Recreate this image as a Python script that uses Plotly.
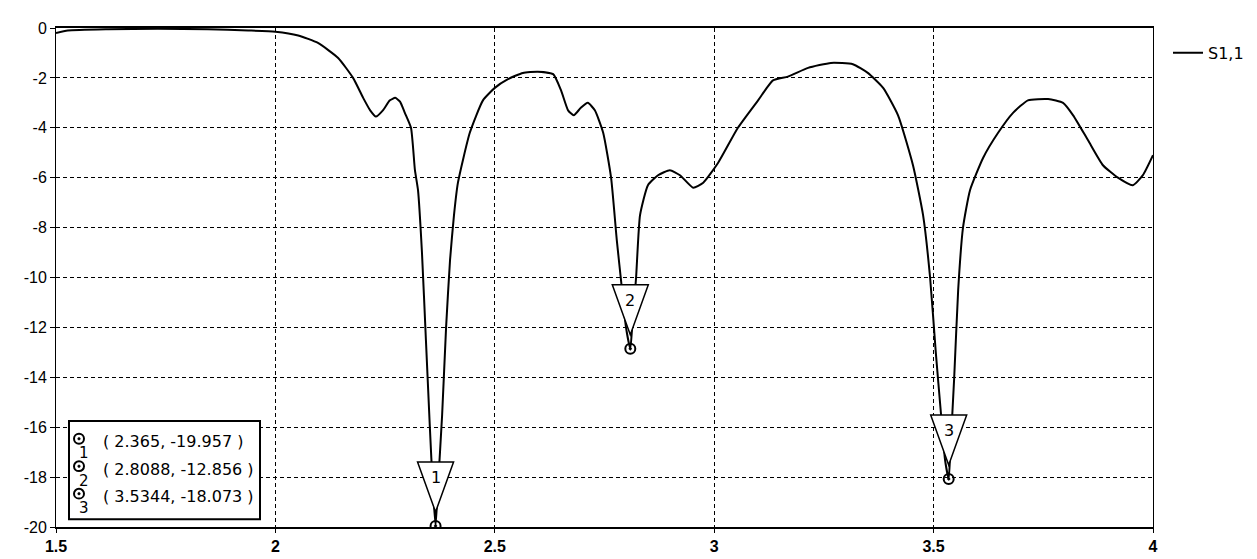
import plotly.graph_objects as go

# ---------------- data ----------------
freq = [1.5, 1.527, 1.619, 1.732, 1.846, 1.938, 2.0, 2.052, 2.097, 2.143, 2.177, 2.2, 2.216,
        2.229, 2.245, 2.261, 2.273, 2.284, 2.295, 2.309, 2.318, 2.325, 2.334, 2.343, 2.352,
        2.359, 2.365, 2.37, 2.38, 2.389, 2.398, 2.407, 2.416, 2.443, 2.473, 2.5, 2.53, 2.564,
        2.598, 2.633, 2.651, 2.667, 2.68, 2.696, 2.712, 2.728, 2.747, 2.765, 2.778, 2.79,
        2.799, 2.8088, 2.813, 2.822, 2.831, 2.849, 2.872, 2.899, 2.922, 2.952, 2.975, 3.009,
        3.054, 3.1, 3.134, 3.168, 3.214, 3.266, 3.316, 3.35, 3.385, 3.419, 3.453, 3.476,
        3.492, 3.505, 3.517, 3.526, 3.5344, 3.538, 3.547, 3.556, 3.567, 3.583, 3.613, 3.647,
        3.681, 3.715, 3.761, 3.795, 3.818, 3.852, 3.886, 3.92, 3.954, 3.977, 4.0]
s11 = [-0.2, -0.1, -0.05, -0.03, -0.05, -0.1, -0.15, -0.3, -0.6, -1.2, -2.0, -2.8, -3.3,
       -3.55, -3.3, -2.9, -2.8, -2.95, -3.4, -4.0, -5.7, -6.5, -9.0, -12.5, -16.0,
       -18.5, -19.957, -18.5, -15.5, -12.0, -9.3, -7.5, -6.2, -4.2, -2.9, -2.4, -2.05, -1.8,
       -1.75, -1.85, -2.5, -3.3, -3.5, -3.2, -3.0, -3.3, -4.2, -6.0, -8.5, -10.5,
       -12.0, -12.856, -12.0, -10.0, -7.5, -6.3, -5.9, -5.7, -5.9, -6.4, -6.2, -5.4,
       -4.0, -2.9, -2.1, -1.95, -1.6, -1.4, -1.45, -1.8, -2.4, -3.5, -5.5, -7.5,
       -10.0, -13.0, -15.5, -17.3, -18.073, -17.0, -14.0, -10.5, -8.0, -6.5, -5.2, -4.2,
       -3.4, -2.9, -2.85, -3.0, -3.5, -4.5, -5.5, -6.0, -6.3, -5.9, -5.1]
series_name = "S1,1"

marker_ids = ["1", "2", "3"]
marker_x = [2.365, 2.8088, 3.5344]
marker_y = [-19.957, -12.856, -18.073]

x_ticks = [1.5, 2, 2.5, 3, 3.5, 4]
x_tick_labels = ["1.5", "2", "2.5", "3", "3.5", "4"]
y_ticks = [0, -2, -4, -6, -8, -10, -12, -14, -16, -18, -20]
y_tick_labels = ["0", "-2", "-4", "-6", "-8", "-10", "-12", "-14", "-16", "-18", "-20"]

# ---------------- layout geometry (pixels) ----------------
W, H = 1257, 559
PL, PR, PT, PB = 48, 1145, 14, 523
PW, PH = PR - PL, PB - PT


def px2paper(px, py):
    return (px - PL) / PW, (PB - py) / PH


FONT = "DejaVu Sans"

fig = go.Figure()
fig.add_trace(go.Scatter(x=freq, y=s11, mode="lines", name=series_name,
                         line=dict(color="black", width=2, shape="spline", smoothing=0.5)))

# marker triangles (white filled, drawn over the curve)
TIP, TH, TW = 14, 50, 18
shapes = []
annotations = []
for mid, mx, my in zip(marker_ids, marker_x, marker_y):
    shapes.append(dict(type="path", xref="x", yref="y", xsizemode="pixel", ysizemode="pixel",
                       xanchor=mx, yanchor=my,
                       path=f"M {-TW},{TIP + TH} L {TW},{TIP + TH} L 0,{TIP} Z",
                       fillcolor="white", line=dict(color="black", width=1.5), layer="above"))
    annotations.append(dict(x=mx, y=my, xref="x", yref="y", text=mid, showarrow=False,
                            yshift=TIP + TH - 16, font=dict(family=FONT, size=16, color="black")))

fig.add_trace(go.Scatter(x=marker_x, y=marker_y, mode="markers", showlegend=False,
                         marker=dict(symbol="circle-open-dot", size=10, color="black",
                                     line=dict(width=2, color="black"))))

# marker table box
bx0, by0 = px2paper(61, 515)
bx1, by1 = px2paper(252, 415)
shapes.append(dict(type="rect", xref="paper", yref="paper", x0=bx0, y0=by0, x1=bx1, y1=by1,
                   fillcolor="white", line=dict(color="black", width=2), layer="above"))
row_y = [436, 464, 492]
for i, (mid, mx, my) in enumerate(zip(marker_ids, marker_x, marker_y)):
    cy = row_y[i] - 3
    cx0, cy0 = px2paper(71 - 5, cy + 5)
    cx1, cy1 = px2paper(71 + 5, cy - 5)
    shapes.append(dict(type="circle", xref="paper", yref="paper", x0=cx0, y0=cy0, x1=cx1, y1=cy1,
                       line=dict(color="black", width=2), layer="above"))
    dx0, dy0 = px2paper(71 - 1.3, cy + 1.3)
    dx1, dy1 = px2paper(71 + 1.3, cy - 1.3)
    shapes.append(dict(type="circle", xref="paper", yref="paper", x0=dx0, y0=dy0, x1=dx1, y1=dy1,
                       fillcolor="black", line=dict(color="black", width=0.5), layer="above"))
    sx, sy = px2paper(76, row_y[i] + 12)
    annotations.append(dict(x=sx, y=sy, xref="paper", yref="paper", text=mid, showarrow=False,
                            xanchor="center", yanchor="middle",
                            font=dict(family=FONT, size=15, color="black")))
    tx, ty = px2paper(93, row_y[i])
    annotations.append(dict(x=tx, y=ty, xref="paper", yref="paper",
                            text=f"( {mx}, {my} )", showarrow=False,
                            xanchor="left", yanchor="middle",
                            font=dict(family=FONT, size=16, color="black")))

fig.update_layout(
    width=W, height=H,
    margin=dict(l=PL, r=W - PR, t=PT, b=H - PB, pad=0),
    paper_bgcolor="white", plot_bgcolor="white",
    font=dict(family=FONT, size=15, color="black"),
    shapes=shapes, annotations=annotations,
    showlegend=True,
    legend=dict(x=(1160 - PL) / PW, y=(PB - 22) / PH, xanchor="left", yanchor="top",
                bgcolor="rgba(0,0,0,0)", font=dict(family=FONT, size=16, color="black")),
    xaxis=dict(range=[1.5, 4], tickvals=x_ticks, ticktext=x_tick_labels,
               showgrid=True, gridcolor="black", gridwidth=1, griddash="4px,3px",
               showline=True, linecolor="black", linewidth=2, mirror=True,
               ticks="outside", ticklen=4, tickcolor="black",
               tickfont=dict(family="Liberation Sans", size=16, color="black", weight="bold"),
               zeroline=False),
    yaxis=dict(range=[-20, 0], tickvals=y_ticks, ticktext=y_tick_labels,
               showgrid=True, gridcolor="black", gridwidth=1, griddash="4px,3px",
               showline=True, linecolor="black", linewidth=1, mirror=True,
               ticks="outside", ticklen=5, tickcolor="black",
               tickfont=dict(family="Liberation Sans", size=16, color="black"),
               zeroline=False),
)

fig.write_html("out.html")
